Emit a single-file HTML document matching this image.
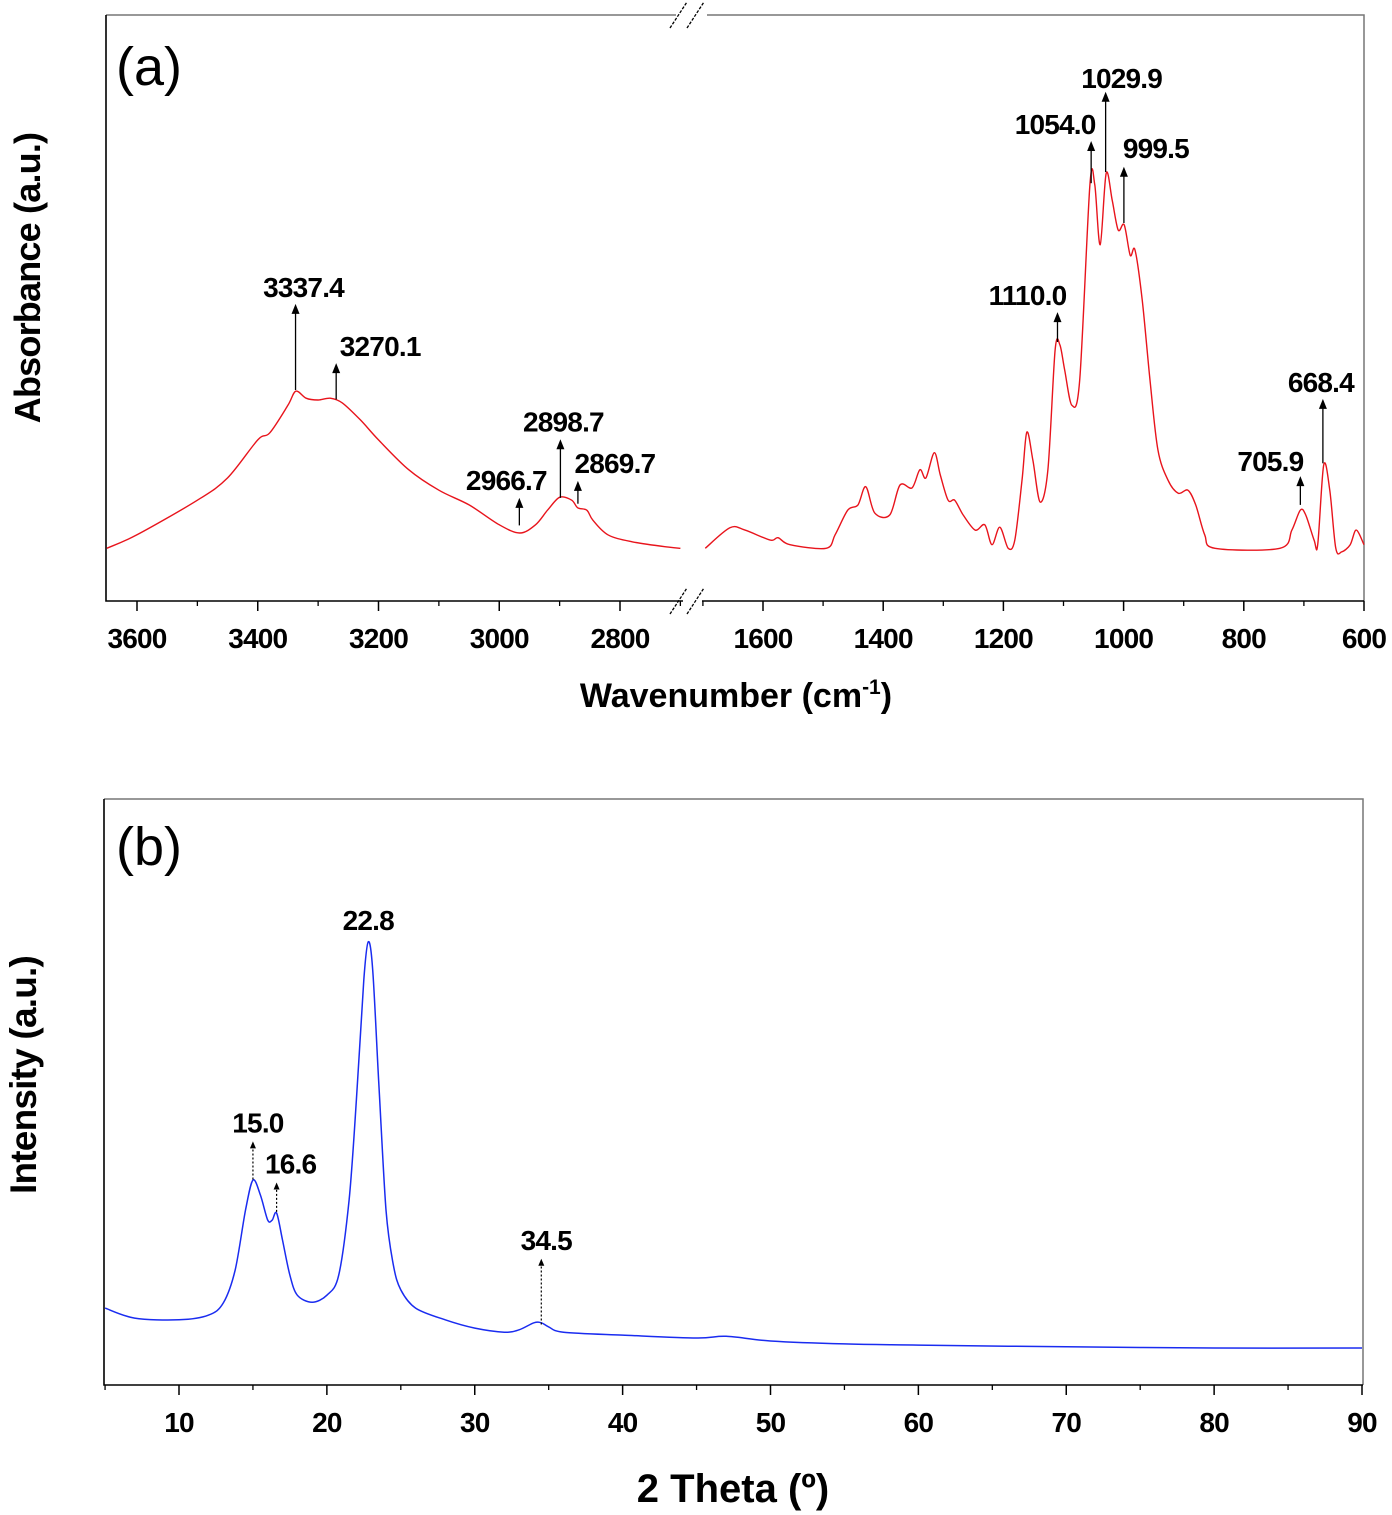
<!DOCTYPE html>
<html><head><meta charset="utf-8"><style>
body{margin:0;background:#fff;}
svg{display:block;font-family:"Liberation Sans",Arial,sans-serif;}
.tk{font-size:28px;font-weight:bold;text-anchor:middle;letter-spacing:-0.8px}
.an{font-size:28px;font-weight:bold;text-anchor:middle;letter-spacing:-0.8px}
</style></head><body>
<svg id="c" width="1392" height="1515" viewBox="0 0 1392 1515" xmlns="http://www.w3.org/2000/svg"></svg>
<script>
// ---- Panel (a) FTIR data ----
const ftirLeftWn=[3650,3600,3500,3450,3400,3380,3350,3337,3320,3300,3280,3260,3230,3200,3150,3100,3050,3000,2966,2940,2920,2900,2880,2870,2855,2845,2820,2780,2720,2700];
const ftirLeftAbs=[9.0,11.3,17.2,21.0,27.5,28.7,33.4,35.8,34.6,34.3,34.6,33.8,30.9,27.5,22.4,18.9,16.4,13.0,11.6,13.0,15.5,17.7,17.2,15.9,15.5,13.8,11.3,10.1,9.2,9.0];
const ftirRightWn=[1696,1655,1630,1588,1575,1555,1495,1480,1459,1442,1429,1414,1389,1372,1352,1339,1329,1315,1305,1292,1281,1267,1247,1231,1219,1206,1192,1181,1169,1161,1151,1139,1126,1114,1106,1098,1086,1073,1056,1048,1039,1029,1019,1009,999,989,981,969,956,943,926,909,893,880,865,848,740,720,706,697,683,677,667,657,647,637,623,613,600];
const ftirRightAbs=[9.0,12.5,12.1,10.4,10.8,9.6,9.0,11.3,15.5,16.4,19.5,15.0,14.7,19.8,19.3,22.4,21.0,25.3,21.5,17.2,17.2,14.7,12.1,13.0,9.6,12.6,9.0,10.4,20.6,28.8,24.1,16.9,22.4,42.8,43.7,39.4,33.4,37.7,71.0,71.0,60.8,73.0,68.4,63.3,64.2,59.0,59.9,51.4,37.7,25.8,20.6,18.4,18.9,16.4,11.3,9.0,9.0,12.1,15.5,14.7,10.4,9.6,23.2,19.0,9.0,8.4,9.6,12.1,9.6];
const ftirTicksLeft=[3600,3400,3200,3000,2800];
const ftirTicksRight=[1600,1400,1200,1000,800,600];
const ftirPeaks=["3337.4","3270.1","2966.7","2898.7","2869.7","1110.0","1054.0","1029.9","999.5","705.9","668.4"];
const ftirPeakBase=[36.0,34.4,12.9,17.6,16.6,44.2,71.3,73.2,64.5,16.4,23.5];
const ftirPeakTip=[50.7,40.6,17.6,27.6,20.5,49.3,78.5,86.9,74.1,21.3,34.5];
// ---- Panel (b) XRD data ----
const xrdTheta=[5,7,10,12,13,13.8,14.5,15,15.5,16,16.3,16.6,17,17.5,18,19,20,20.8,21.5,22,22.5,22.8,23.1,23.5,24,24.5,25,26,28,30,32,33,34,34.5,35,36,40,45,47,50,55,60,70,80,90];
const xrdInt=[13.1,11.4,11.1,11.9,14.0,19.6,29.8,34.9,32.4,28.1,28.1,29.3,24.7,18.7,15.3,14.1,15.3,18.7,31.5,48.6,69.0,75.5,70.7,52.0,29.8,20.4,16.2,13.1,11.1,9.7,9.0,9.4,10.6,10.6,9.9,9.0,8.5,8.0,8.3,7.5,7.0,6.8,6.5,6.3,6.3];
const xrdTicks=[10,20,30,40,50,60,70,80,90];
const xrdPeaks=["15.0","16.6","22.8","34.5"];
const xrdPeakBase=[35.0,29.5,null,10.3];
const xrdPeakTip=[41.5,34.5,null,21.5];

const NS="http://www.w3.org/2000/svg";
const svg=document.getElementById('c');
function mk(t,a,p){const e=document.createElementNS(NS,t);for(const k in a)e.setAttribute(k,a[k]);(p||svg).appendChild(e);return e;}

const aTop=15,aBot=601;
const xL=w=>620+(2800-w)*0.60375;
const xR=w=>763+(1600-w)*0.601;
const xA=w=>w>=2000?xL(w):xR(w);
const yA=v=>aBot-v*5.86;
const bTop=799,bBot=1385;
const xB=t=>179+(t-10)*14.7875;
const yB=v=>bBot-v*5.87;

// smooth path (Catmull-Rom)
function line(xs,ys,fx,fy){
 const P=xs.map((v,i)=>[fx(v),fy(ys[i])]);
 let d='M'+P[0][0].toFixed(1)+' '+P[0][1].toFixed(1);
 for(let i=0;i<P.length-1;i++){
  const p0=P[Math.max(0,i-1)],p1=P[i],p2=P[i+1],p3=P[Math.min(P.length-1,i+2)];
  const k=0.16;
  const c1=[p1[0]+(p2[0]-p0[0])*k,p1[1]+(p2[1]-p0[1])*k];
  const c2=[p2[0]-(p3[0]-p1[0])*k,p2[1]-(p3[1]-p1[1])*k];
  d+=`C${c1[0].toFixed(1)} ${c1[1].toFixed(1)} ${c2[0].toFixed(1)} ${c2[1].toFixed(1)} ${p2[0].toFixed(1)} ${p2[1].toFixed(1)}`;
 }
 return d;
}

// ---------- Panel (a) ----------
const ga=mk('g',{});


let fr=mk('path',{d:`M106 ${aTop}H676 M707 ${aTop}H1364V${aBot}`,stroke:'#777',fill:'none','stroke-width':1.5},ga);

let ax=mk('path',{d:`M106 ${aTop}V${aBot}H683 M702 ${aBot}H1364`,stroke:'#000',fill:'none','stroke-width':1.6},ga);

[aTop,aBot].forEach(y=>{
 [677,694].forEach(x=>{const b=mk('line',{x1:x-7,y1:y+13,x2:x+10,y2:y-13,stroke:'#000','stroke-width':1.3,'stroke-dasharray':'3,1.5'},ga);
 });
});
ftirTicksLeft.concat(ftirTicksRight).forEach(w=>{
 const x=xA(w);
 const t=mk('line',{x1:x,y1:aBot,x2:x,y2:aBot+10,stroke:'#000','stroke-width':1.5},ga);
 
 const l=mk('text',{x:x,y:aBot+47,class:'tk'},ga);l.textContent=w;
 
});
for(let w=3700;w>=2700;w-=100){if(ftirTicksLeft.includes(w))continue;const x=xL(w);if(x<106||x>683)continue;
 const t=mk('line',{x1:x,y1:aBot,x2:x,y2:aBot+5,stroke:'#000','stroke-width':1.3},ga);}
for(let w=1700;w>=600;w-=100){if(ftirTicksRight.includes(w))continue;const x=xR(w);if(x<702)continue;
 const t=mk('line',{x1:x,y1:aBot,x2:x,y2:aBot+5,stroke:'#000','stroke-width':1.3},ga);}
let s1=mk('path',{d:line(ftirLeftWn,ftirLeftAbs,xL,yA),stroke:'#e8141c',fill:'none','stroke-width':1.4},ga);

let s2=mk('path',{d:line(ftirRightWn,ftirRightAbs,xR,yA),stroke:'#e8141c',fill:'none','stroke-width':1.4},ga);

const labOff=[[8,-7],[44,-7],[-13,-8],[3,-8],[37,-8],[-30,-7],[-36,-7],[16,-4],[32,-9],[-30,-5],[-2,-7]];
ftirPeaks.forEach((p,i)=>{
 const x=xA(parseFloat(p)),y0=yA(ftirPeakBase[i]),y1=yA(ftirPeakTip[i]);
 const g=mk('g',{},ga);
 mk('line',{x1:x,y1:y0,x2:x,y2:y1+6,stroke:'#000','stroke-width':1.3},g);
 mk('path',{d:`M${x-4} ${y1+10}L${x} ${y1}L${x+4} ${y1+10}Z`,fill:'#000'},g);
 const t=mk('text',{x:x+labOff[i][0],y:y1+labOff[i][1],class:'an'},g);t.textContent=p;
});
let ya=mk('text',{transform:'translate(40,278) rotate(-90)','text-anchor':'middle','font-size':36,'font-weight':'bold','letter-spacing':'-0.8'},ga);
ya.textContent='Absorbance (a.u.)';
let xa=mk('text',{x:736,y:707,'text-anchor':'middle','font-size':34,'font-weight':'bold','letter-spacing':'0'},ga);
xa.innerHTML='Wavenumber (cm<tspan dy="-13" font-size="21">-1</tspan><tspan dy="13">)</tspan>';

let pa=mk('text',{x:116,y:85,'font-size':54},ga);pa.textContent='(a)';


// ---------- Panel (b) ----------
const gb=mk('g',{});


let fb=mk('path',{d:`M104 ${bTop}H1363V${bBot}`,stroke:'#777',fill:'none','stroke-width':1.5},gb);

let axb=mk('path',{d:`M104 ${bTop}V${bBot}H1363`,stroke:'#000',fill:'none','stroke-width':1.6},gb);

xrdTicks.forEach(t=>{const x=xB(t);
 const k=mk('line',{x1:x,y1:bBot,x2:x,y2:bBot+10,stroke:'#000','stroke-width':1.5},gb);
 
 const l=mk('text',{x:x,y:bBot+47,class:'tk'},gb);l.textContent=t;
 
 const m=mk('line',{x1:xB(t-5),y1:bBot,x2:xB(t-5),y2:bBot+5,stroke:'#000','stroke-width':1.3},gb);
 
});
let s3=mk('path',{d:line(xrdTheta,xrdInt,xB,yB),stroke:'#1a2cf0',fill:'none','stroke-width':1.5},gb);

const xoff=[5,14,0,5];
xrdPeaks.forEach((p,i)=>{
 const x=xB(parseFloat(p));
 const g=mk('g',{},gb);
 let ty;
 if(xrdPeakBase[i]!==null){const y0=yB(xrdPeakBase[i]),y1=yB(xrdPeakTip[i]);
  mk('line',{x1:x,y1:y0,x2:x,y2:y1+5,stroke:'#000','stroke-width':1.2,'stroke-dasharray':'2,2'},g);
  mk('path',{d:`M${x-3} ${y1+7}L${x} ${y1}L${x+3} ${y1+7}Z`,fill:'#000'},g);ty=y1-9;}
 else ty=yB(xrdInt[xrdTheta.indexOf(parseFloat(p))])-12;
 const t=mk('text',{x:x+xoff[i],y:ty,class:'an'},g);t.textContent=p;
});
let yb=mk('text',{transform:'translate(36,1075) rotate(-90)','text-anchor':'middle','font-size':37,'font-weight':'bold','letter-spacing':'-0.8'},gb);
yb.textContent='Intensity (a.u.)';
let xb=mk('text',{x:733,y:1502,'text-anchor':'middle','font-size':40,'font-weight':'bold'},gb);
xb.textContent='2 Theta (º)';
let pb=mk('text',{x:116,y:865,'font-size':54},gb);pb.textContent='(b)';

</script>
</body></html>
